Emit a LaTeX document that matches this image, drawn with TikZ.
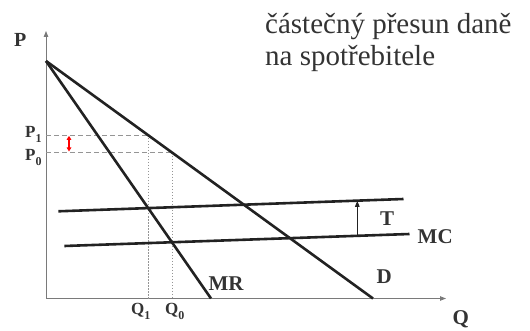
\documentclass[tikz,border=0pt]{standalone}
\usepackage{fontspec}
\setmainfont{Liberation Serif}
\usetikzlibrary{arrows.meta}
\definecolor{ink}{HTML}{222222}
\definecolor{txt}{HTML}{333333}
\definecolor{axisgray}{HTML}{7A7A7A}
\tikzset{
  curve/.style={draw=ink, line width=2.6pt},
  axisline/.style={draw=axisgray, line width=0.9pt, -{Triangle[length=6pt,width=4.5pt]}},
  guideh/.style={draw=axisgray!80, line width=0.8pt, dash pattern=on 5pt off 3pt},
  guidev/.style={draw=axisgray!80, line width=0.8pt, dash pattern=on 1.5pt off 1.5pt},
  lbl/.style={inner sep=0pt, anchor=base west, text=txt, font=\fontsize{21}{21}\selectfont\bfseries},
  slbl/.style={inner sep=0pt, anchor=base west, text=txt, font=\fontsize{17}{17}\selectfont\bfseries},
}
\newcommand{\subidx}[1]{{\fontsize{12}{12}\selectfont\raisebox{-4.5pt}{#1}}}
\begin{document}
\begin{tikzpicture}[x=1pt,y=-1pt]
\useasboundingbox (0,0) rectangle (530,331);
% coordinates
\coordinate (O) at (46,298.5);
\coordinate (Ytop) at (46,31);
\coordinate (Xend) at (446,298.5);
\coordinate (A) at (46,61);
\coordinate (Dend) at (373,298.5);
\coordinate (MRend) at (211,298.5);
\coordinate (P1a) at (46,135);
\coordinate (P1d) at (148.3,135);
\coordinate (P0a) at (46,152.8);
\coordinate (P0d) at (172.8,152.8);
\coordinate (Q1) at (148.3,298.5);
\coordinate (Q0) at (172.8,298.5);
\coordinate (U1) at (58.3,211.3);
\coordinate (U2) at (403.5,199);
\coordinate (L1) at (64.3,246);
\coordinate (L2) at (409.5,234);
\coordinate (Tb) at (357.3,235.8);
\coordinate (Tt) at (357.3,200.8);
\coordinate (Rb) at (69,151.5);
\coordinate (Rt) at (69,135.8);
% axes
\draw[axisline] (O) -- (Ytop);
\draw[axisline] (O) -- (Xend);
% guides
\draw[guideh] (P1a) -- (P1d);
\draw[guideh] (P0a) -- (P0d);
\draw[guidev] (P1d) -- (Q1);
\draw[guidev] (P0d) -- (Q0);
% curves
\draw[curve] (A) -- (Dend);
\draw[curve] (A) -- (MRend);
\draw[curve] (U1) -- (U2);
\draw[curve] (L1) -- (L2);
% tax arrow
\draw[draw=ink, line width=0.9pt, -{Triangle[length=6pt,width=4.5pt]}] (Tb) -- (Tt);
% red arrow
\draw[red, line width=1.8pt, {Triangle[length=4pt,width=4.5pt]}-{Triangle[length=4pt,width=4.5pt]}] (Rb) -- (Rt);
% labels
\node[lbl, font=\fontsize{20}{20}\selectfont\bfseries] (Pl) at (14,46.7) {P};
\node[slbl] (P1l) at (25,137.7) {P\subidx{1}};
\node[slbl] (P0l) at (25,161) {P\subidx{0}};
\node[slbl] (Q1l) at (131,314.5) {Q\subidx{1}};
\node[slbl] (Q0l) at (165,314.5) {Q\subidx{0}};
\node[lbl] (MRl) at (208.3,290) {MR};
\node[lbl] (Dl) at (376.5,283.5) {D};
\node[lbl] (Ql) at (452.5,324.5) {Q};
\node[lbl] (Tl) at (380,225.7) {T};
\node[lbl] (MCl) at (417.5,243.3) {MC};
\node[inner sep=0pt, anchor=base west, text=txt, font=\fontsize{29}{29}\selectfont] (t1) at (265,34) {částečný přesun daně};
\node[inner sep=0pt, anchor=base west, text=txt, font=\fontsize{29}{29}\selectfont] (t2) at (265,66) {na spotřebitele};
\end{tikzpicture}
\end{document}
